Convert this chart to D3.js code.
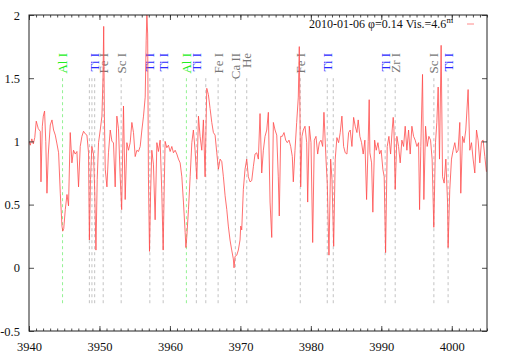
<!DOCTYPE html>
<html>
<head>
<meta charset="utf-8">
<script src="https://cdn.jsdelivr.net/npm/d3@7"></script>
<style>
  body { margin: 0; background: #fff; }
  svg text { font-family: "Liberation Serif", "Times New Roman", Times, serif; }
</style>
</head>
<body>
<svg id="chart"></svg>
<script>
// wavelength (A) and relative flux
const wave = [
  3940.00, 3940.18, 3940.40, 3940.61, 3940.82, 3941.03, 3941.32, 3941.60, 3941.70, 3941.89,
  3942.03, 3942.21, 3942.38, 3942.55, 3942.74, 3943.02, 3943.26, 3943.49, 3943.73, 3943.97,
  3944.20, 3944.44, 3944.68, 3944.79, 3944.93, 3945.15, 3945.39, 3945.61, 3945.85, 3946.09,
  3946.32, 3946.56, 3946.80, 3947.03, 3947.27, 3947.51, 3947.74, 3947.98, 3948.22, 3948.45,
  3948.57, 3948.73, 3948.92, 3949.16, 3949.33, 3949.50, 3949.68, 3949.87, 3950.11, 3950.35,
  3950.50, 3950.60, 3950.70, 3950.82, 3951.06, 3951.28, 3951.53, 3951.77, 3951.99, 3952.23,
  3952.47, 3952.70, 3952.94, 3953.15, 3953.41, 3953.65, 3953.89, 3954.12, 3954.36, 3954.60,
  3954.83, 3955.07, 3955.31, 3955.54, 3955.78, 3956.02, 3956.25, 3956.49, 3956.63, 3956.73,
  3956.84, 3956.95, 3957.10, 3957.26, 3957.43, 3957.66, 3957.90, 3958.15, 3958.37, 3958.61,
  3958.85, 3959.04, 3959.18, 3959.32, 3959.56, 3959.79, 3960.03, 3960.27, 3960.50, 3960.74,
  3960.98, 3961.21, 3961.45, 3961.69, 3961.92, 3962.16, 3962.27, 3962.40, 3962.63, 3962.87,
  3963.11, 3963.33, 3963.57, 3963.82, 3964.05, 3964.28, 3964.52, 3964.75, 3964.99, 3965.23,
  3965.46, 3965.70, 3965.94, 3966.17, 3966.41, 3966.65, 3966.88, 3967.12, 3967.36, 3967.59,
  3967.83, 3968.07, 3968.29, 3968.53, 3968.77, 3969.00, 3969.10, 3969.24, 3969.49, 3969.71,
  3969.95, 3970.05, 3970.19, 3970.42, 3970.66, 3970.90, 3971.13, 3971.37, 3971.61, 3971.84,
  3972.08, 3972.32, 3972.55, 3972.79, 3973.03, 3973.26, 3973.50, 3973.74, 3973.97, 3974.21,
  3974.45, 3974.68, 3974.92, 3975.16, 3975.38, 3975.52, 3975.72, 3975.95, 3976.19, 3976.43,
  3976.66, 3976.90, 3977.14, 3977.37, 3977.51, 3977.75, 3977.99, 3978.22, 3978.36, 3978.56,
  3978.74, 3978.93, 3979.17, 3979.41, 3979.55, 3979.78, 3980.02, 3980.26, 3980.49, 3980.73,
  3980.97, 3981.20, 3981.44, 3981.68, 3981.86, 3982.15, 3982.33, 3982.57, 3982.81, 3983.00,
  3983.24, 3983.46, 3983.70, 3983.94, 3984.17, 3984.41, 3984.65, 3984.88, 3985.12, 3985.36,
  3985.59, 3985.83, 3986.07, 3986.30, 3986.54, 3986.72, 3986.96, 3987.20, 3987.43, 3987.67,
  3987.91, 3988.14, 3988.28, 3988.38, 3988.62, 3988.80, 3989.05, 3989.28, 3989.52, 3989.76,
  3989.98, 3990.22, 3990.41, 3990.61, 3990.84, 3991.08, 3991.32, 3991.54, 3991.69, 3991.79,
  3991.97, 3992.21, 3992.45, 3992.68, 3992.92, 3993.16, 3993.39, 3993.63, 3993.87, 3994.10,
  3994.34, 3994.58, 3994.81, 3995.05, 3995.29, 3995.43, 3995.61, 3995.85, 3996.04, 3996.28,
  3996.51, 3996.75, 3996.99, 3997.21, 3997.45, 3997.69, 3997.88, 3998.07, 3998.26, 3998.49,
  3998.69, 3998.92, 3999.16, 3999.40, 3999.48, 3999.72, 3999.96, 4000.19, 4000.43, 4000.67,
  4000.90, 4001.14, 4001.28, 4001.52, 4001.75, 4001.99, 4002.32, 4002.56, 4002.80, 4003.03,
  4003.27, 4003.51, 4003.74, 4003.98, 4004.22, 4004.45, 4004.69, 4004.92
];
const flux = [
  1.00, 0.97, 1.02, 0.98, 1.03, 1.16, 1.10, 1.08, 0.68, 1.12,
  1.20, 1.24, 1.00, 0.59, 0.90, 1.13, 1.17, 1.09, 1.05, 0.98,
  0.91, 0.59, 0.33, 0.29, 0.31, 0.46, 0.58, 0.49, 1.07, 0.83,
  0.93, 0.90, 0.92, 0.64, 0.96, 1.04, 1.08, 1.06, 1.05, 0.91,
  0.22, 0.70, 0.96, 0.90, 0.60, 0.14, 0.70, 0.99, 1.09, 1.20,
  1.50, 1.91, 1.20, 0.78, 0.64, 0.91, 1.09, 1.00, 0.99, 0.64,
  1.20, 1.10, 0.72, 0.46, 1.28, 0.54, 0.99, 0.93, 0.99, 1.15,
  1.07, 0.88, 0.93, 0.92, 0.96, 1.09, 1.20, 1.35, 1.80, 2.00,
  1.85, 0.72, 0.13, 0.60, 0.93, 0.82, 0.38, 0.99, 0.92, 1.01,
  0.59, 0.14, 0.60, 1.00, 0.95, 0.97, 0.92, 0.96, 0.91, 0.93,
  0.90, 0.86, 0.83, 0.72, 0.52, 0.28, 0.16, 0.25, 0.46, 0.72,
  0.99, 1.09, 0.93, 0.70, 1.20, 1.04, 0.93, 1.17, 0.72, 1.42,
  1.37, 1.26, 1.15, 1.07, 1.05, 0.91, 0.78, 0.86, 0.84, 0.72,
  0.57, 0.46, 0.33, 0.22, 0.14, 0.07, 0.00, 0.09, 0.10, 0.14,
  0.22, 0.33, 0.30, 0.62, 0.78, 0.86, 0.72, 0.68, 0.69, 0.80,
  0.90, 0.91, 0.86, 1.22, 0.75, 0.93, 1.04, 1.09, 1.23, 0.52,
  0.24, 1.15, 1.09, 1.05, 0.72, 0.41, 1.04, 1.04, 1.07, 1.01,
  0.99, 1.01, 0.96, 0.88, 0.68, 0.93, 1.15, 1.35, 1.75, 0.64,
  1.04, 1.09, 1.12, 0.99, 0.52, 1.12, 0.99, 0.20, 1.01, 1.04,
  0.90, 0.99, 1.01, 0.96, 1.23, 0.86, 0.67, 0.10, 0.86, 0.70,
  0.17, 0.86, 1.03, 0.99, 1.07, 1.20, 0.96, 0.91, 0.90, 1.07,
  1.09, 0.96, 1.19, 1.12, 1.07, 1.17, 1.04, 0.99, 0.90, 1.01,
  0.54, 1.00, 1.33, 0.91, 0.83, 0.44, 1.01, 0.93, 0.99, 0.90,
  0.93, 0.78, 0.72, 0.12, 0.96, 1.04, 0.90, 1.09, 1.19, 1.10,
  0.62, 1.04, 0.96, 0.83, 1.01, 0.96, 1.12, 0.93, 1.09, 0.90,
  1.12, 1.04, 1.01, 0.96, 0.99, 0.46, 0.96, 1.53, 0.54, 1.12,
  0.96, 1.04, 1.01, 0.86, 0.32, 0.99, 1.15, 1.43, 0.86, 1.76,
  0.72, 0.67, 0.86, 0.52, 0.16, 0.62, 0.86, 0.93, 0.99, 0.91,
  0.93, 1.15, 0.59, 1.04, 0.99, 1.09, 1.41, 0.93, 0.99, 0.86,
  0.75, 1.09, 1.01, 0.83, 1.00, 1.01, 0.88, 0.76
];

// identified lines
const lineWave = [
  3944.76, 3948.57, 3948.93, 3949.32, 3950.53, 3953.08, 3957.15, 3959.04, 3962.34, 3963.75,
  3965.09, 3966.84, 3969.29, 3970.90, 3978.50, 3982.33, 3983.18, 3990.55, 3991.97, 3997.46,
  3999.48
];
const lineLabel = [
  "Al I", "", "", "Ti I", "Fe I", "Sc I", "Ti I", "Ti I", "Al I", "Ti I",
  "", "Fe I", "Ca II", "He", "Fe I", "Ti I", "", "Ti I", "Zr I", "Sc I",
  "Ti I"
];
const lineElem = [
  "Al", "Ti", "Ti", "Ti", "Fe", "Sc", "Ti", "Ti", "Al", "Ti",
  "Fe", "Fe", "Ca", "He", "Fe", "Ti", "Ti", "Ti", "Zr", "Sc",
  "Ti"
];

const xTicks = [3940, 3950, 3960, 3970, 3980, 3990, 4000];
const yTicks = [-0.5, 0, 0.5, 1, 1.5, 2];
const legendText = "2010-01-06 \u03c6=0.14 Vis.=4.6";

const width = 509, height = 356;
const margin = { top: 15, right: 22, bottom: 25, left: 29 };
const serif = "'Liberation Serif', 'Times New Roman', Times, serif";

const svg = d3.select("#chart").attr("width", width).attr("height", height);

const x = d3.scaleLinear().domain([3940, 4005]).range([margin.left, width - margin.right]);
const y = d3.scaleLinear().domain([-0.5, 2]).range([height - margin.bottom, margin.top]);

const labelColor = e => e === "Al" ? "#22ee22" : e === "Ti" ? "#2a2aff" : "#777";
const dashColor = e => e === "Al" ? "#77ee77" : "#b4b4b4";

// line markers
svg.append("g")
  .selectAll("line")
  .data(lineWave)
  .join("line")
  .attr("x1", d => x(d)).attr("x2", d => x(d))
  .attr("y1", y(1.5)).attr("y2", y(-0.3))
  .attr("stroke", (d, i) => dashColor(lineElem[i]))
  .attr("stroke-width", 0.8)
  .attr("stroke-dasharray", "3,3");

svg.append("g")
  .selectAll("text")
  .data(lineWave)
  .join("text")
  .attr("transform", d => `translate(${x(d) + 4.5},${y(1.70)}) rotate(-90)`)
  .attr("text-anchor", "end")
  .attr("font-family", serif)
  .attr("font-size", 13)
  .attr("fill", (d, i) => labelColor(lineElem[i]))
  .text((d, i) => lineLabel[i]);

// spectrum
const pts = wave.map((w, i) => [w, flux[i]]);
svg.append("defs").append("clipPath").attr("id", "clip")
  .append("rect")
  .attr("x", margin.left).attr("y", margin.top)
  .attr("width", width - margin.left - margin.right)
  .attr("height", height - margin.top - margin.bottom);

svg.append("path")
  .datum(pts)
  .attr("clip-path", "url(#clip)")
  .attr("fill", "none")
  .attr("stroke", "#ff4a4a")
  .attr("stroke-width", 0.8)
  .attr("d", d3.line().x(d => x(d[0])).y(d => y(d[1])));

// axes
const minor = d3.range(3940, 4006, 1);
svg.append("g").attr("transform", `translate(0,${y(-0.5)})`)
  .call(d3.axisBottom(x).tickValues(minor).tickSize(-2.5).tickFormat(""));
svg.append("g").attr("transform", `translate(0,${y(2)})`)
  .call(d3.axisTop(x).tickValues(minor).tickSize(-2.5).tickFormat(""));
svg.append("g").attr("transform", `translate(0,${y(-0.5)})`)
  .call(d3.axisBottom(x).tickValues(xTicks).tickSize(-5).tickPadding(11).tickFormat(d3.format("d")));
svg.append("g").attr("transform", `translate(0,${y(2)})`)
  .call(d3.axisTop(x).tickValues(xTicks).tickSize(-5).tickFormat(""));
svg.append("g").attr("transform", `translate(${x(3940)},0)`)
  .call(d3.axisLeft(y).tickValues(yTicks).tickSize(-5).tickPadding(9).tickFormat(d => String(d)));
svg.append("g").attr("transform", `translate(${x(4005)},0)`)
  .call(d3.axisRight(y).tickValues(yTicks).tickSize(-5).tickFormat(""));

svg.selectAll(".domain").remove();
svg.selectAll(".tick line").attr("stroke", "#222").attr("stroke-width", 0.8);
svg.selectAll("g").attr("font-family", serif);
svg.selectAll(".tick text")
  .attr("font-family", serif)
  .attr("font-size", 12.5)
  .attr("fill", "#111");

svg.append("rect")
  .attr("x", x(3940)).attr("y", y(2))
  .attr("width", x(4005) - x(3940)).attr("height", y(-0.5) - y(2))
  .attr("fill", "none").attr("stroke", "#222").attr("stroke-width", 1);

// legend
const leg = svg.append("text")
  .attr("x", 453).attr("y", 28)
  .attr("text-anchor", "end")
  .attr("font-family", serif)
  .attr("font-size", 12)
  .attr("fill", "#111");
leg.append("tspan").text(legendText);
leg.append("tspan").attr("dy", -5).attr("font-size", 8.5).text("m");

svg.append("line")
  .attr("x1", 467).attr("x2", 474)
  .attr("y1", 24).attr("y2", 24)
  .attr("stroke", "#ff8a8a").attr("stroke-width", 1);
</script>
</body>
</html>
